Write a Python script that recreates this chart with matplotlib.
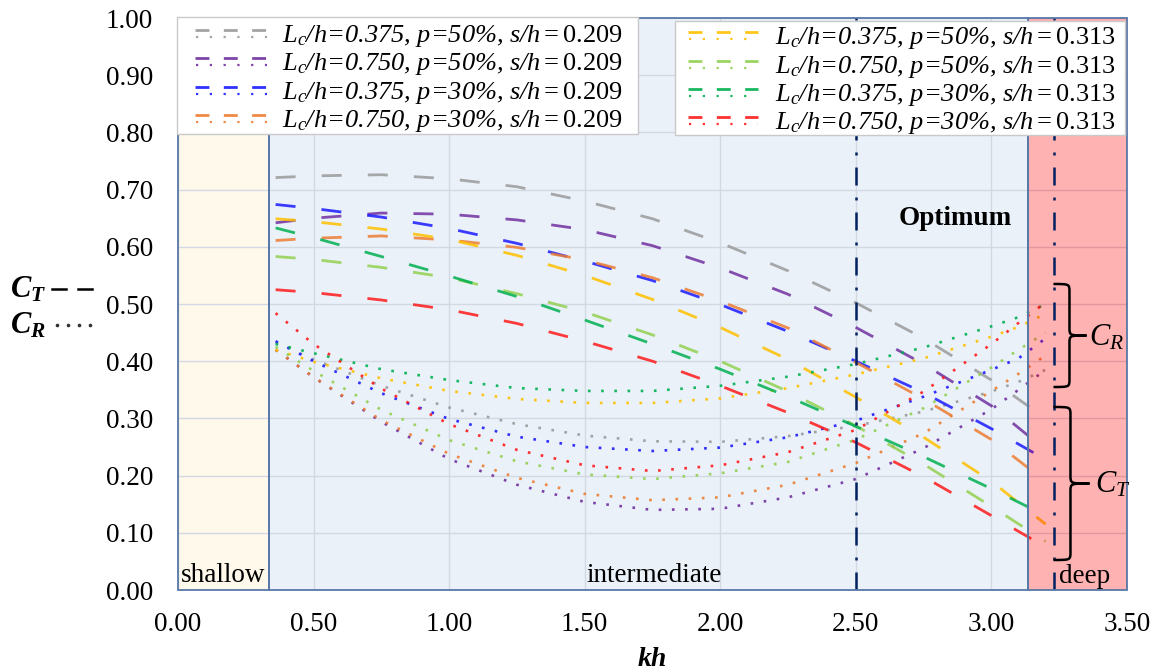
import numpy as np
import matplotlib
matplotlib.use("Agg")
import matplotlib.pyplot as plt
from matplotlib.lines import Line2D
from matplotlib.patches import Rectangle, PathPatch
from matplotlib.path import Path
import matplotlib.transforms as mtransforms

# ---------------- data ----------------
kh_T = [0.36, 0.5, 0.75, 1.0, 1.25, 1.5, 1.75, 2.0, 2.25, 2.5, 2.75, 3.0, 3.2]
kh_R = [0.36, 0.5, 0.75, 1.0, 1.25, 1.5, 1.75, 2.0, 2.25, 2.5, 2.75, 3.0, 3.1, 3.2]

labels = [
    "L$_c$/h=0.375, p=50%, s/h$=0.209$",
    "L$_c$/h=0.750, p=50%, s/h$=0.209$",
    "L$_c$/h=0.375, p=30%, s/h$=0.209$",
    "L$_c$/h=0.750, p=30%, s/h$=0.209$",
    "L$_c$/h=0.375, p=50%, s/h$=0.313$",
    "L$_c$/h=0.750, p=50%, s/h$=0.313$",
    "L$_c$/h=0.375, p=30%, s/h$=0.313$",
    "L$_c$/h=0.750, p=30%, s/h$=0.313$",
]
colors = ["#9a9a9a", "#7030A0", "#1a1aff", "#ED7D31",
          "#FFC000", "#92D050", "#00B050", "#FF1a1a"]

CT = [
    [0.721, 0.724, 0.726, 0.719, 0.705, 0.680, 0.649, 0.607, 0.558, 0.502, 0.440, 0.367, 0.300],
    [0.642, 0.650, 0.659, 0.657, 0.647, 0.630, 0.602, 0.563, 0.517, 0.459, 0.395, 0.322, 0.245],
    [0.674, 0.667, 0.652, 0.632, 0.606, 0.575, 0.541, 0.499, 0.452, 0.400, 0.345, 0.282, 0.228],
    [0.611, 0.615, 0.619, 0.612, 0.599, 0.577, 0.546, 0.505, 0.458, 0.398, 0.334, 0.263, 0.190],
    [0.649, 0.644, 0.631, 0.613, 0.585, 0.550, 0.508, 0.459, 0.403, 0.337, 0.267, 0.190, 0.115],
    [0.583, 0.578, 0.564, 0.546, 0.518, 0.486, 0.446, 0.400, 0.347, 0.287, 0.220, 0.146, 0.085],
    [0.633, 0.616, 0.583, 0.549, 0.513, 0.472, 0.430, 0.386, 0.338, 0.286, 0.233, 0.177, 0.130],
    [0.525, 0.520, 0.507, 0.490, 0.466, 0.435, 0.400, 0.357, 0.310, 0.258, 0.198, 0.130, 0.075],
]
CR = [
    [0.433, 0.403, 0.357, 0.319, 0.290, 0.270, 0.260, 0.259, 0.269, 0.287, 0.312, 0.347, 0.364, 0.385],
    [0.420, 0.372, 0.294, 0.229, 0.184, 0.154, 0.140, 0.142, 0.162, 0.194, 0.248, 0.316, 0.350, 0.385],
    [0.435, 0.400, 0.344, 0.299, 0.268, 0.250, 0.243, 0.249, 0.267, 0.296, 0.338, 0.385, 0.405, 0.440],
    [0.420, 0.372, 0.297, 0.238, 0.196, 0.168, 0.157, 0.162, 0.184, 0.222, 0.274, 0.348, 0.378, 0.410],
    [0.420, 0.399, 0.370, 0.348, 0.334, 0.327, 0.327, 0.335, 0.353, 0.377, 0.405, 0.443, 0.460, 0.483],
    [0.425, 0.383, 0.315, 0.262, 0.225, 0.202, 0.194, 0.204, 0.224, 0.263, 0.318, 0.389, 0.420, 0.450],
    [0.430, 0.414, 0.386, 0.367, 0.353, 0.348, 0.348, 0.357, 0.373, 0.395, 0.424, 0.461, 0.477, 0.500],
    [0.484, 0.430, 0.352, 0.290, 0.245, 0.218, 0.208, 0.218, 0.241, 0.280, 0.347, 0.430, 0.467, 0.503],
]

xticks = [0.0, 0.5, 1.0, 1.5, 2.0, 2.5, 3.0, 3.5]
yticks = [0.0, 0.1, 0.2, 0.3, 0.4, 0.5, 0.6, 0.7, 0.8, 0.9, 1.0]
shallow_lim = 0.336
deep_lim = 3.136
optimum_lines = [2.5, 3.23]

# ---------------- style ----------------
plt.rcParams['font.family'] = ['Liberation Serif', 'DejaVu Serif']
plt.rcParams['mathtext.fontset'] = 'custom'
plt.rcParams['mathtext.rm'] = 'Liberation Serif'
plt.rcParams['mathtext.it'] = 'Liberation Serif:italic'
plt.rcParams['mathtext.bf'] = 'Liberation Serif:italic:bold'

W, H = 1162, 671
fig = plt.figure(figsize=(W / 100, H / 100), dpi=100)
fig.patch.set_facecolor('white')
pix = mtransforms.Affine2D().scale(1 / W, -1 / H).translate(0, 1) + fig.transFigure

L, R, T, B = 178, 1127, 18, 590
ax = fig.add_axes([L / W, 1 - B / H, (R - L) / W, (B - T) / H])
ax.set_xlim(0, 3.5)
ax.set_ylim(0, 1.0)
ax.set_facecolor('white')
for s in ax.spines.values():
    s.set_visible(False)

# backgrounds
ax.add_patch(Rectangle((0, 0), shallow_lim, 1, facecolor='#FFF9EC', edgecolor='none', zorder=0))
ax.add_patch(Rectangle((shallow_lim, 0), deep_lim - shallow_lim, 1, facecolor='#EAF1F9',
                       edgecolor='none', zorder=0))

ax.set_xticks(xticks)
ax.set_yticks(yticks)
ax.set_xticklabels([f"{v:.2f}" for v in xticks])
ax.set_yticklabels([f"{v:.2f}" for v in yticks])
ax.tick_params(axis='both', length=0, labelsize=19.5)
ax.tick_params(axis='x', pad=16)
ax.tick_params(axis='y', pad=18)
ax.grid(True, color='#d3d9e2', lw=1.0, zorder=0.5)
ax.set_axisbelow(True)

# curves
for i in range(8):
    ax.plot(kh_T, CT[i], color=colors[i], lw=2.0, alpha=0.85,
            linestyle=(0, (7.2, 9.4)), zorder=2)
    ax.plot(kh_R, CR[i], color=colors[i], lw=1.9, alpha=0.9,
            linestyle=(0, (1, 4.0)), zorder=2)

# deep region overlay
ax.add_patch(Rectangle((deep_lim, 0), 3.5 - deep_lim, 1, facecolor=(1, 0, 0, 0.3),
                       edgecolor='none', zorder=2.5))

# optimum lines
for xv in optimum_lines:
    ax.plot([xv, xv], [0, 1], color='#002060', lw=1.8,
            linestyle=(0, (7.2, 4.8, 1.2, 4.8)), zorder=3)

# region borders
for x0, x1 in [(0, shallow_lim), (shallow_lim, deep_lim), (deep_lim, 3.5)]:
    ax.add_patch(Rectangle((x0, 0), x1 - x0, 1, facecolor='none', edgecolor='#5878a8',
                           lw=1.3, zorder=4, clip_on=False))

# region texts
ax.text(0.166, 0.014, "shallow", fontsize=19.5, ha='center', va='baseline', zorder=5)
ax.text(1.756, 0.014, "intermediate", fontsize=19.5, ha='center', va='baseline', zorder=5)
ax.text(3.343, 0.012, "deep", fontsize=19.5, ha='center', va='baseline', zorder=5)
ax.text(2.867, 0.638, "Optimum", fontsize=19.5, fontweight='bold', ha='center',
        va='baseline', zorder=5)


# braces
def px2d(px, py):
    return (px - L) / 271.0, (B - py) / 572.0


def brace(xl, xs, xt, ytop, ybot):
    ym = (ytop + ybot) / 2
    r = 8
    pts = [px2d(xl, ytop), px2d(xs, ytop), px2d(xs, ytop), px2d(xs, ytop + r),
           px2d(xs, ym - r), px2d(xs, ym), px2d(xs, ym), px2d(xt, ym),
           px2d(xs, ym), px2d(xs, ym), px2d(xs, ym + r),
           px2d(xs, ybot - r), px2d(xs, ybot), px2d(xs, ybot), px2d(xl, ybot)]
    codes = [Path.MOVETO, Path.CURVE4, Path.CURVE4, Path.CURVE4,
             Path.LINETO, Path.CURVE4, Path.CURVE4, Path.CURVE4,
             Path.CURVE4, Path.CURVE4, Path.CURVE4,
             Path.LINETO, Path.CURVE4, Path.CURVE4, Path.CURVE4]
    ax.add_patch(PathPatch(Path(pts, codes), facecolor='none', edgecolor='black',
                           lw=1.8, zorder=6, clip_on=False))


brace(1053, 1069, 1086, 284, 387)
brace(1053, 1070, 1089, 407, 560)
ax.text(*px2d(1106, 338), "$C_R$", fontsize=22, ha='center', va='center', zorder=6)
ax.text(*px2d(1112, 485), "$C_T$", fontsize=22, ha='center', va='center', zorder=6)

# axis labels
fig.text(10, 290, r"$\mathbf{C_T}$", transform=pix, fontsize=22, ha='left', va='center')
fig.lines.append(Line2D([52, 66], [289, 289], transform=pix, color='black', lw=1.8))
fig.lines.append(Line2D([78, 92], [289, 289], transform=pix, color='black', lw=1.8))
fig.text(10, 326, r"$\mathbf{C_R}$", transform=pix, fontsize=22, ha='left', va='center')
fig.lines.append(Line2D([57, 68, 79, 90], [325, 325, 325, 325], transform=pix, color='#333333',
                        lw=0, marker='o', markersize=1.6))
fig.text(652, 659, "kh", transform=pix, fontsize=20, fontweight='bold', fontstyle='italic',
         ha='center', va='center')

# manual legends
def legend_box(x0, y0, x1, y1, idxs, hx0, hx1, tx, centers):
    fig.patches.append(Rectangle((x0, y0), x1 - x0, y1 - y0, transform=pix,
                                 facecolor='white', edgecolor='#c9c9c9', lw=1.0, zorder=10))
    for k, i in enumerate(idxs):
        c = centers[k]
        fig.lines.append(Line2D([hx0, hx1], [c - 5, c - 5], transform=pix, color=colors[i],
                                lw=2.0, alpha=0.9, linestyle=(0, (5, 5.2)), zorder=11))
        fig.lines.append(Line2D([hx0 + 1, hx1], [c + 2, c + 2], transform=pix, color=colors[i],
                                lw=1.6, alpha=0.9, linestyle=(0, (1, 5.2)), zorder=11))
        fig.text(tx, c + 7, labels[i], transform=pix, fontsize=19, fontstyle='italic',
                 ha='left', va='baseline', zorder=12)


legend_box(177, 17, 638, 134, [0, 1, 2, 3], 195, 267, 282, [35, 63, 92, 120])
legend_box(675, 21, 1125, 135, [4, 5, 6, 7], 688, 758, 775, [37, 66, 94, 122])

fig.savefig("out.png", dpi=100)
